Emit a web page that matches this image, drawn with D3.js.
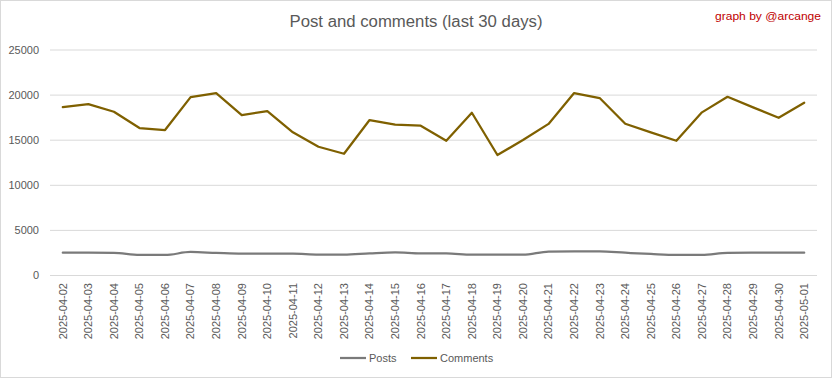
<!DOCTYPE html>
<html><head><meta charset="utf-8">
<script src="https://cdn.jsdelivr.net/npm/d3@7"></script>
<style>body{margin:0;background:#fff}svg{display:block}</style>
</head><body><svg id="c" width="832" height="378"></svg>
<script>
const dates = ["2025-04-02","2025-04-03","2025-04-04","2025-04-05","2025-04-06","2025-04-07","2025-04-08","2025-04-09","2025-04-10","2025-04-11","2025-04-12","2025-04-13","2025-04-14","2025-04-15","2025-04-16","2025-04-17","2025-04-18","2025-04-19","2025-04-20","2025-04-21","2025-04-22","2025-04-23","2025-04-24","2025-04-25","2025-04-26","2025-04-27","2025-04-28","2025-04-29","2025-04-30","2025-05-01"];
const posts = [2470,2470,2450,2220,2220,2550,2450,2360,2360,2360,2250,2250,2400,2510,2400,2400,2250,2250,2250,2590,2620,2620,2470,2330,2220,2220,2450,2470,2470,2470];
const comments = [18600,18950,18100,16290,16070,19720,20170,17730,18170,15820,14220,13440,17180,16660,16550,14880,17990,13300,14960,16750,20170,19620,16770,15810,14880,18030,19760,18580,17430,19100];
const yTicks = [0,5000,10000,15000,20000,25000];
const seriesNames = ["Posts","Comments"];
const colors = ["#7a7a7a","#7f6000"];

const svg = d3.select("#c");
const font = "'Liberation Sans', Arial, sans-serif";
svg.append("rect").attr("x",0.5).attr("y",0.5).attr("width",831).attr("height",377)
  .attr("fill","#fff").attr("stroke","#d9d9d9");

const x = d3.scaleBand().domain(dates).range([50,817]);
const y = d3.scaleLinear().domain([0,25000]).range([275,49.5]);

// grid
const yAxis = d3.axisLeft(y).tickValues(yTicks).tickSize(-(817-50)).tickFormat(d3.format("d"));
const gy = svg.append("g").attr("transform","translate(50,0)").call(yAxis);
gy.select(".domain").remove();
gy.selectAll(".tick line").attr("stroke","#d9d9d9");
gy.selectAll(".tick text").attr("x",-11).attr("fill","#595959")
  .style("font-family",font).style("font-size","11px");

const xAxis = d3.axisBottom(x).tickSize(0);
const gx = svg.append("g").attr("transform","translate(0,275)").call(xAxis);
gx.select(".domain").remove();
gx.selectAll(".tick text").attr("transform","rotate(-90)").attr("text-anchor","end")
  .attr("x",-8).attr("y",0).attr("dy","0.35em").attr("fill","#595959")
  .style("font-family",font).style("font-size","11px");

const cx = d => x(d) + x.bandwidth()/2;
const linePosts = d3.line().x((d,i)=>cx(dates[i])).y(d=>y(d)).curve(d3.curveMonotoneX);
const lineComments = d3.line().x((d,i)=>cx(dates[i])).y(d=>y(d));
svg.append("path").datum(posts).attr("d",linePosts).attr("fill","none")
  .attr("stroke",colors[0]).attr("stroke-width",2.25).attr("stroke-linejoin","round").attr("stroke-linecap","round");
svg.append("path").datum(comments).attr("d",lineComments).attr("fill","none")
  .attr("stroke",colors[1]).attr("stroke-width",2.25).attr("stroke-linejoin","round").attr("stroke-linecap","round");

// title
svg.append("text").attr("x",416).attr("y",27).attr("text-anchor","middle")
  .attr("fill","#595959").style("font-family",font).style("font-size","16px")
  .attr("textLength",253).attr("lengthAdjust","spacingAndGlyphs")
  .text("Post and comments (last 30 days)");
svg.append("text").attr("x",821).attr("y",20).attr("text-anchor","end")
  .attr("fill","#c00000").style("font-family",font).style("font-size","11px")
  .attr("textLength",106).attr("lengthAdjust","spacingAndGlyphs")
  .text("graph by @arcange");

// legend
const leg = [{n:seriesNames[0],c:colors[0],x:340},{n:seriesNames[1],c:colors[1],x:411}];
leg.forEach(l=>{
  svg.append("line").attr("x1",l.x).attr("x2",l.x+26).attr("y1",358).attr("y2",358)
    .attr("stroke",l.c).attr("stroke-width",2.25);
  svg.append("text").attr("x",l.x+29).attr("y",358).attr("dy","0.35em").attr("fill","#595959")
    .style("font-family",font).style("font-size","11px").text(l.n);
});
</script></body></html>
